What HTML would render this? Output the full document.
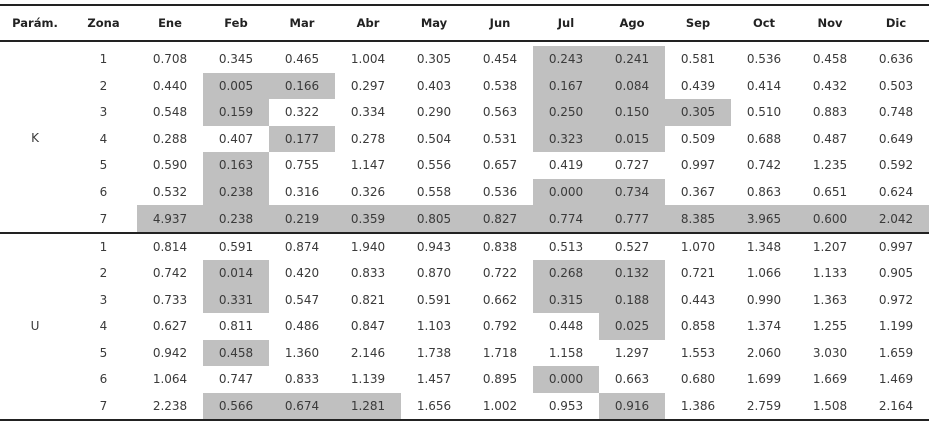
<!DOCTYPE html>
<html><head><meta charset="utf-8"><style>
body{margin:0;width:929px;height:425px;background:#fff;position:relative;overflow:hidden;font-family:"DejaVu Sans","Liberation Sans",sans-serif;font-size:12px;color:#3a3a3a}
.r{position:absolute;left:0;width:929px;display:grid;grid-template-columns:70px 67px repeat(12,66px)}
.r div{display:flex;align-items:center;justify-content:center}
.g{background:#c0c0c0}
.h div{font-weight:bold;color:#222;font-size:11.5px}
.line{position:absolute;left:0;width:929px;background:#222}
.p{position:absolute;left:0;width:70px;text-align:center}
</style></head><body>
<div class="line" style="top:4px;height:2px"></div>
<div class="r h" style="top:6px;height:34px"><div>Parám.</div><div>Zona</div><div>Ene</div><div>Feb</div><div>Mar</div><div>Abr</div><div>May</div><div>Jun</div><div>Jul</div><div>Ago</div><div>Sep</div><div>Oct</div><div>Nov</div><div>Dic</div></div>
<div class="line" style="top:40px;height:1.5px"></div>

<div class="r" style="top:46px;height:26.5px"><div></div><div>1</div><div>0.708</div><div>0.345</div><div>0.465</div><div>1.004</div><div>0.305</div><div>0.454</div><div class="g">0.243</div><div class="g">0.241</div><div>0.581</div><div>0.536</div><div>0.458</div><div>0.636</div></div>
<div class="r" style="top:72.5px;height:26.5px"><div></div><div>2</div><div>0.440</div><div class="g">0.005</div><div class="g">0.166</div><div>0.297</div><div>0.403</div><div>0.538</div><div class="g">0.167</div><div class="g">0.084</div><div>0.439</div><div>0.414</div><div>0.432</div><div>0.503</div></div>
<div class="r" style="top:99px;height:26.5px"><div></div><div>3</div><div>0.548</div><div class="g">0.159</div><div>0.322</div><div>0.334</div><div>0.290</div><div>0.563</div><div class="g">0.250</div><div class="g">0.150</div><div class="g">0.305</div><div>0.510</div><div>0.883</div><div>0.748</div></div>
<div class="r" style="top:125.5px;height:26.5px"><div></div><div>4</div><div>0.288</div><div>0.407</div><div class="g">0.177</div><div>0.278</div><div>0.504</div><div>0.531</div><div class="g">0.323</div><div class="g">0.015</div><div>0.509</div><div>0.688</div><div>0.487</div><div>0.649</div></div>
<div class="r" style="top:152px;height:26.5px"><div></div><div>5</div><div>0.590</div><div class="g">0.163</div><div>0.755</div><div>1.147</div><div>0.556</div><div>0.657</div><div>0.419</div><div>0.727</div><div>0.997</div><div>0.742</div><div>1.235</div><div>0.592</div></div>
<div class="r" style="top:178.5px;height:26.5px"><div></div><div>6</div><div>0.532</div><div class="g">0.238</div><div>0.316</div><div>0.326</div><div>0.558</div><div>0.536</div><div class="g">0.000</div><div class="g">0.734</div><div>0.367</div><div>0.863</div><div>0.651</div><div>0.624</div></div>
<div class="r" style="top:205px;height:27px"><div></div><div>7</div><div class="g">4.937</div><div class="g">0.238</div><div class="g">0.219</div><div class="g">0.359</div><div class="g">0.805</div><div class="g">0.827</div><div class="g">0.774</div><div class="g">0.777</div><div class="g">8.385</div><div class="g">3.965</div><div class="g">0.600</div><div class="g">2.042</div></div>
<div class="p" style="top:131px">K</div>
<div class="line" style="top:232px;height:1.5px"></div>

<div class="r" style="top:233.5px;height:26.5px"><div></div><div>1</div><div>0.814</div><div>0.591</div><div>0.874</div><div>1.940</div><div>0.943</div><div>0.838</div><div>0.513</div><div>0.527</div><div>1.070</div><div>1.348</div><div>1.207</div><div>0.997</div></div>
<div class="r" style="top:260px;height:26.5px"><div></div><div>2</div><div>0.742</div><div class="g">0.014</div><div>0.420</div><div>0.833</div><div>0.870</div><div>0.722</div><div class="g">0.268</div><div class="g">0.132</div><div>0.721</div><div>1.066</div><div>1.133</div><div>0.905</div></div>
<div class="r" style="top:286.5px;height:26.5px"><div></div><div>3</div><div>0.733</div><div class="g">0.331</div><div>0.547</div><div>0.821</div><div>0.591</div><div>0.662</div><div class="g">0.315</div><div class="g">0.188</div><div>0.443</div><div>0.990</div><div>1.363</div><div>0.972</div></div>
<div class="r" style="top:313px;height:26.5px"><div></div><div>4</div><div>0.627</div><div>0.811</div><div>0.486</div><div>0.847</div><div>1.103</div><div>0.792</div><div>0.448</div><div class="g">0.025</div><div>0.858</div><div>1.374</div><div>1.255</div><div>1.199</div></div>
<div class="r" style="top:339.5px;height:26.5px"><div></div><div>5</div><div>0.942</div><div class="g">0.458</div><div>1.360</div><div>2.146</div><div>1.738</div><div>1.718</div><div>1.158</div><div>1.297</div><div>1.553</div><div>2.060</div><div>3.030</div><div>1.659</div></div>
<div class="r" style="top:366px;height:26.5px"><div></div><div>6</div><div>1.064</div><div>0.747</div><div>0.833</div><div>1.139</div><div>1.457</div><div>0.895</div><div class="g">0.000</div><div>0.663</div><div>0.680</div><div>1.699</div><div>1.669</div><div>1.469</div></div>
<div class="r" style="top:392.5px;height:26.5px"><div></div><div>7</div><div>2.238</div><div class="g">0.566</div><div class="g">0.674</div><div class="g">1.281</div><div>1.656</div><div>1.002</div><div>0.953</div><div class="g">0.916</div><div>1.386</div><div>2.759</div><div>1.508</div><div>2.164</div></div>
<div class="p" style="top:319px">U</div>
<div class="line" style="top:419px;height:1.5px"></div>
</body></html>
